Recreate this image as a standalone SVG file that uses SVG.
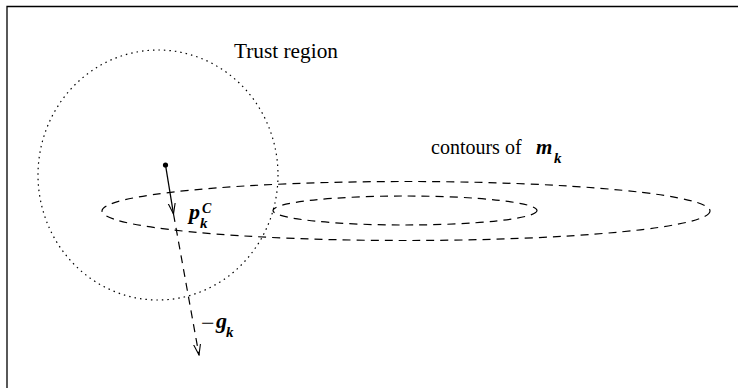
<svg xmlns="http://www.w3.org/2000/svg" width="738" height="388" viewBox="0 0 738 388">
<style>
text{font-family:"Liberation Serif","Times New Roman",Times,serif;fill:#000}
.m{font-weight:bold;font-style:italic}
.dash{fill:none;stroke:#000;stroke-width:1.2;stroke-dasharray:8,6}
.dot{fill:none;stroke:#000;stroke-width:1.2;stroke-dasharray:1.5,4}
.ln{fill:none;stroke:#000;stroke-width:1.3}
</style>
<defs>
<marker id="ah" markerWidth="12" markerHeight="12" refX="11" refY="6" orient="auto" markerUnits="userSpaceOnUse">
<path d="M0,2.5 L11,6 L0,9.5" fill="none" stroke="#000" stroke-width="1.1"/>
</marker>
</defs>
<rect width="738" height="388" fill="#fff"/>
<g id="frame"><path d="M7,388 V6.5 H738" class="ln" stroke-width="1.5"/></g>
<g id="trust-region">
<ellipse cx="158" cy="175" rx="120" ry="125" class="dot"/>
<text x="234" y="58" font-size="21.3">Trust region</text>
</g>
<g id="contours">
<ellipse cx="406" cy="211" rx="304" ry="29.5" class="dash"/>
<ellipse cx="405" cy="210.5" rx="132" ry="14.5" class="dash"/>
<text x="431" y="154" font-size="20">contours of</text>
<text x="536" y="154" class="m" font-size="21">m</text>
<text x="554" y="163" class="m" font-size="15">k</text>
</g>
<g id="start-point"><circle cx="165.5" cy="165" r="2.6" fill="#000"/></g>
<g id="connectors">
<line x1="165.5" y1="165" x2="173.5" y2="214" class="ln" marker-end="url(#ah)"/>
<line x1="173.5" y1="214" x2="199" y2="355" class="dash" stroke-dasharray="9,6" marker-end="url(#ah)"/>
</g>
<g id="pkc-label">
<text x="189" y="219" class="m" font-size="22">p</text>
<text x="200" y="228" class="m" font-size="15">k</text>
<text x="202" y="213" class="m" font-size="14">C</text>
</g>
<g id="gk-label">
<text x="201" y="331" font-size="24">−</text>
<text x="216" y="328" class="m" font-size="22">g</text>
<text x="226" y="337" class="m" font-size="15">k</text>
</g>
</svg>
